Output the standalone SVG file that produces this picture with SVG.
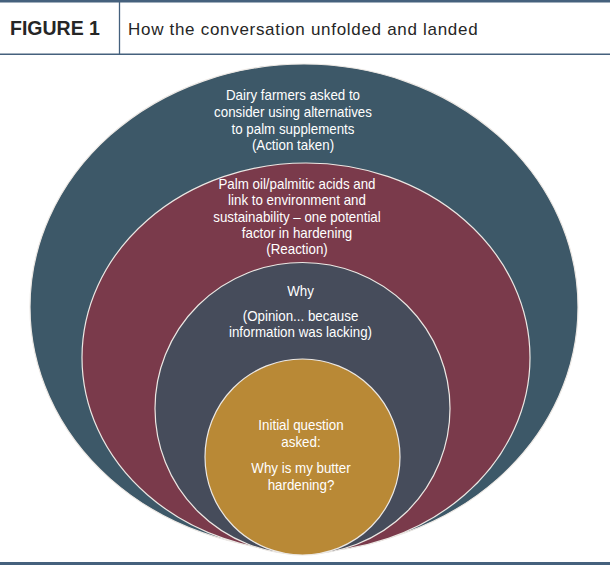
<svg xmlns="http://www.w3.org/2000/svg" width="610" height="567" viewBox="0 0 610 567">
<style>
.rule{stroke:#45617d;fill:none}
.ring{stroke:#ece8e4;stroke-width:1.2}
.lbl{font-family:"Liberation Sans",Arial,sans-serif;font-size:14.5px;fill:#ffffff;text-anchor:middle}
.h1{font-family:"Liberation Sans",Arial,sans-serif;font-weight:bold;font-size:19.5px;fill:#262626}
.h2{font-family:"Liberation Sans",Arial,sans-serif;font-size:17px;letter-spacing:0.7px;fill:#262626}
</style>
<rect width="610" height="567" fill="#ffffff"/>
<g id="header">
<line class="rule" x1="0" y1="1.2" x2="610" y2="1.2" stroke-width="2.4"/>
<line class="rule" x1="119.5" y1="2" x2="119.5" y2="54" stroke-width="1.3"/>
<line class="rule" x1="0" y1="54.3" x2="610" y2="54.3" stroke-width="1.6"/>
<text class="h1" x="10" y="35">FIGURE 1</text>
<text class="h2" x="128" y="35">How the conversation unfolded and landed</text>
</g>
<g id="connectors"/>
<g id="action">
<ellipse class="ring" cx="304" cy="307" rx="274" ry="243" fill="#3d5868"/>
<g transform="matrix(0.92,0,0,1,23.44,0)">
<text class="lbl" x="293" y="100">Dairy farmers asked to</text>
<text class="lbl" x="293" y="117">consider using alternatives</text>
<text class="lbl" x="293" y="134">to palm supplements</text>
<text class="lbl" x="293" y="150">(Action taken)</text>
</g>
</g>
<g id="reaction">
<ellipse class="ring" cx="306" cy="357.5" rx="224" ry="194.5" fill="#7a3a4b"/>
<g transform="matrix(0.92,0,0,1,23.76,0)">
<text class="lbl" x="297" y="189">Palm oil/palmitic acids and</text>
<text class="lbl" x="297" y="205">link to environment and</text>
<text class="lbl" x="297" y="222">sustainability – one potential</text>
<text class="lbl" x="297" y="238">factor in hardening</text>
<text class="lbl" x="297" y="254">(Reaction)</text>
</g>
</g>
<g id="opinion">
<ellipse class="ring" cx="302.5" cy="408.5" rx="147.5" ry="146" fill="#464c5b"/>
<g transform="matrix(0.92,0,0,1,24.04,0)">
<text class="lbl" x="300.5" y="296">Why</text>
<text class="lbl" x="300.5" y="321">(Opinion... because</text>
<text class="lbl" x="300.5" y="337">information was lacking)</text>
</g>
</g>
<g id="question">
<ellipse class="ring" cx="302.5" cy="457" rx="97.5" ry="98" fill="#b98936"/>
<g transform="matrix(0.92,0,0,1,24.08,0)">
<text class="lbl" x="301" y="430">Initial question</text>
<text class="lbl" x="301" y="447">asked:</text>
<text class="lbl" x="301" y="473">Why is my butter</text>
<text class="lbl" x="301" y="490">hardening?</text>
</g>
</g>
<g id="footer">
<line class="rule" x1="0" y1="563.5" x2="610" y2="563.5" stroke-width="3"/>
</g>
</svg>
